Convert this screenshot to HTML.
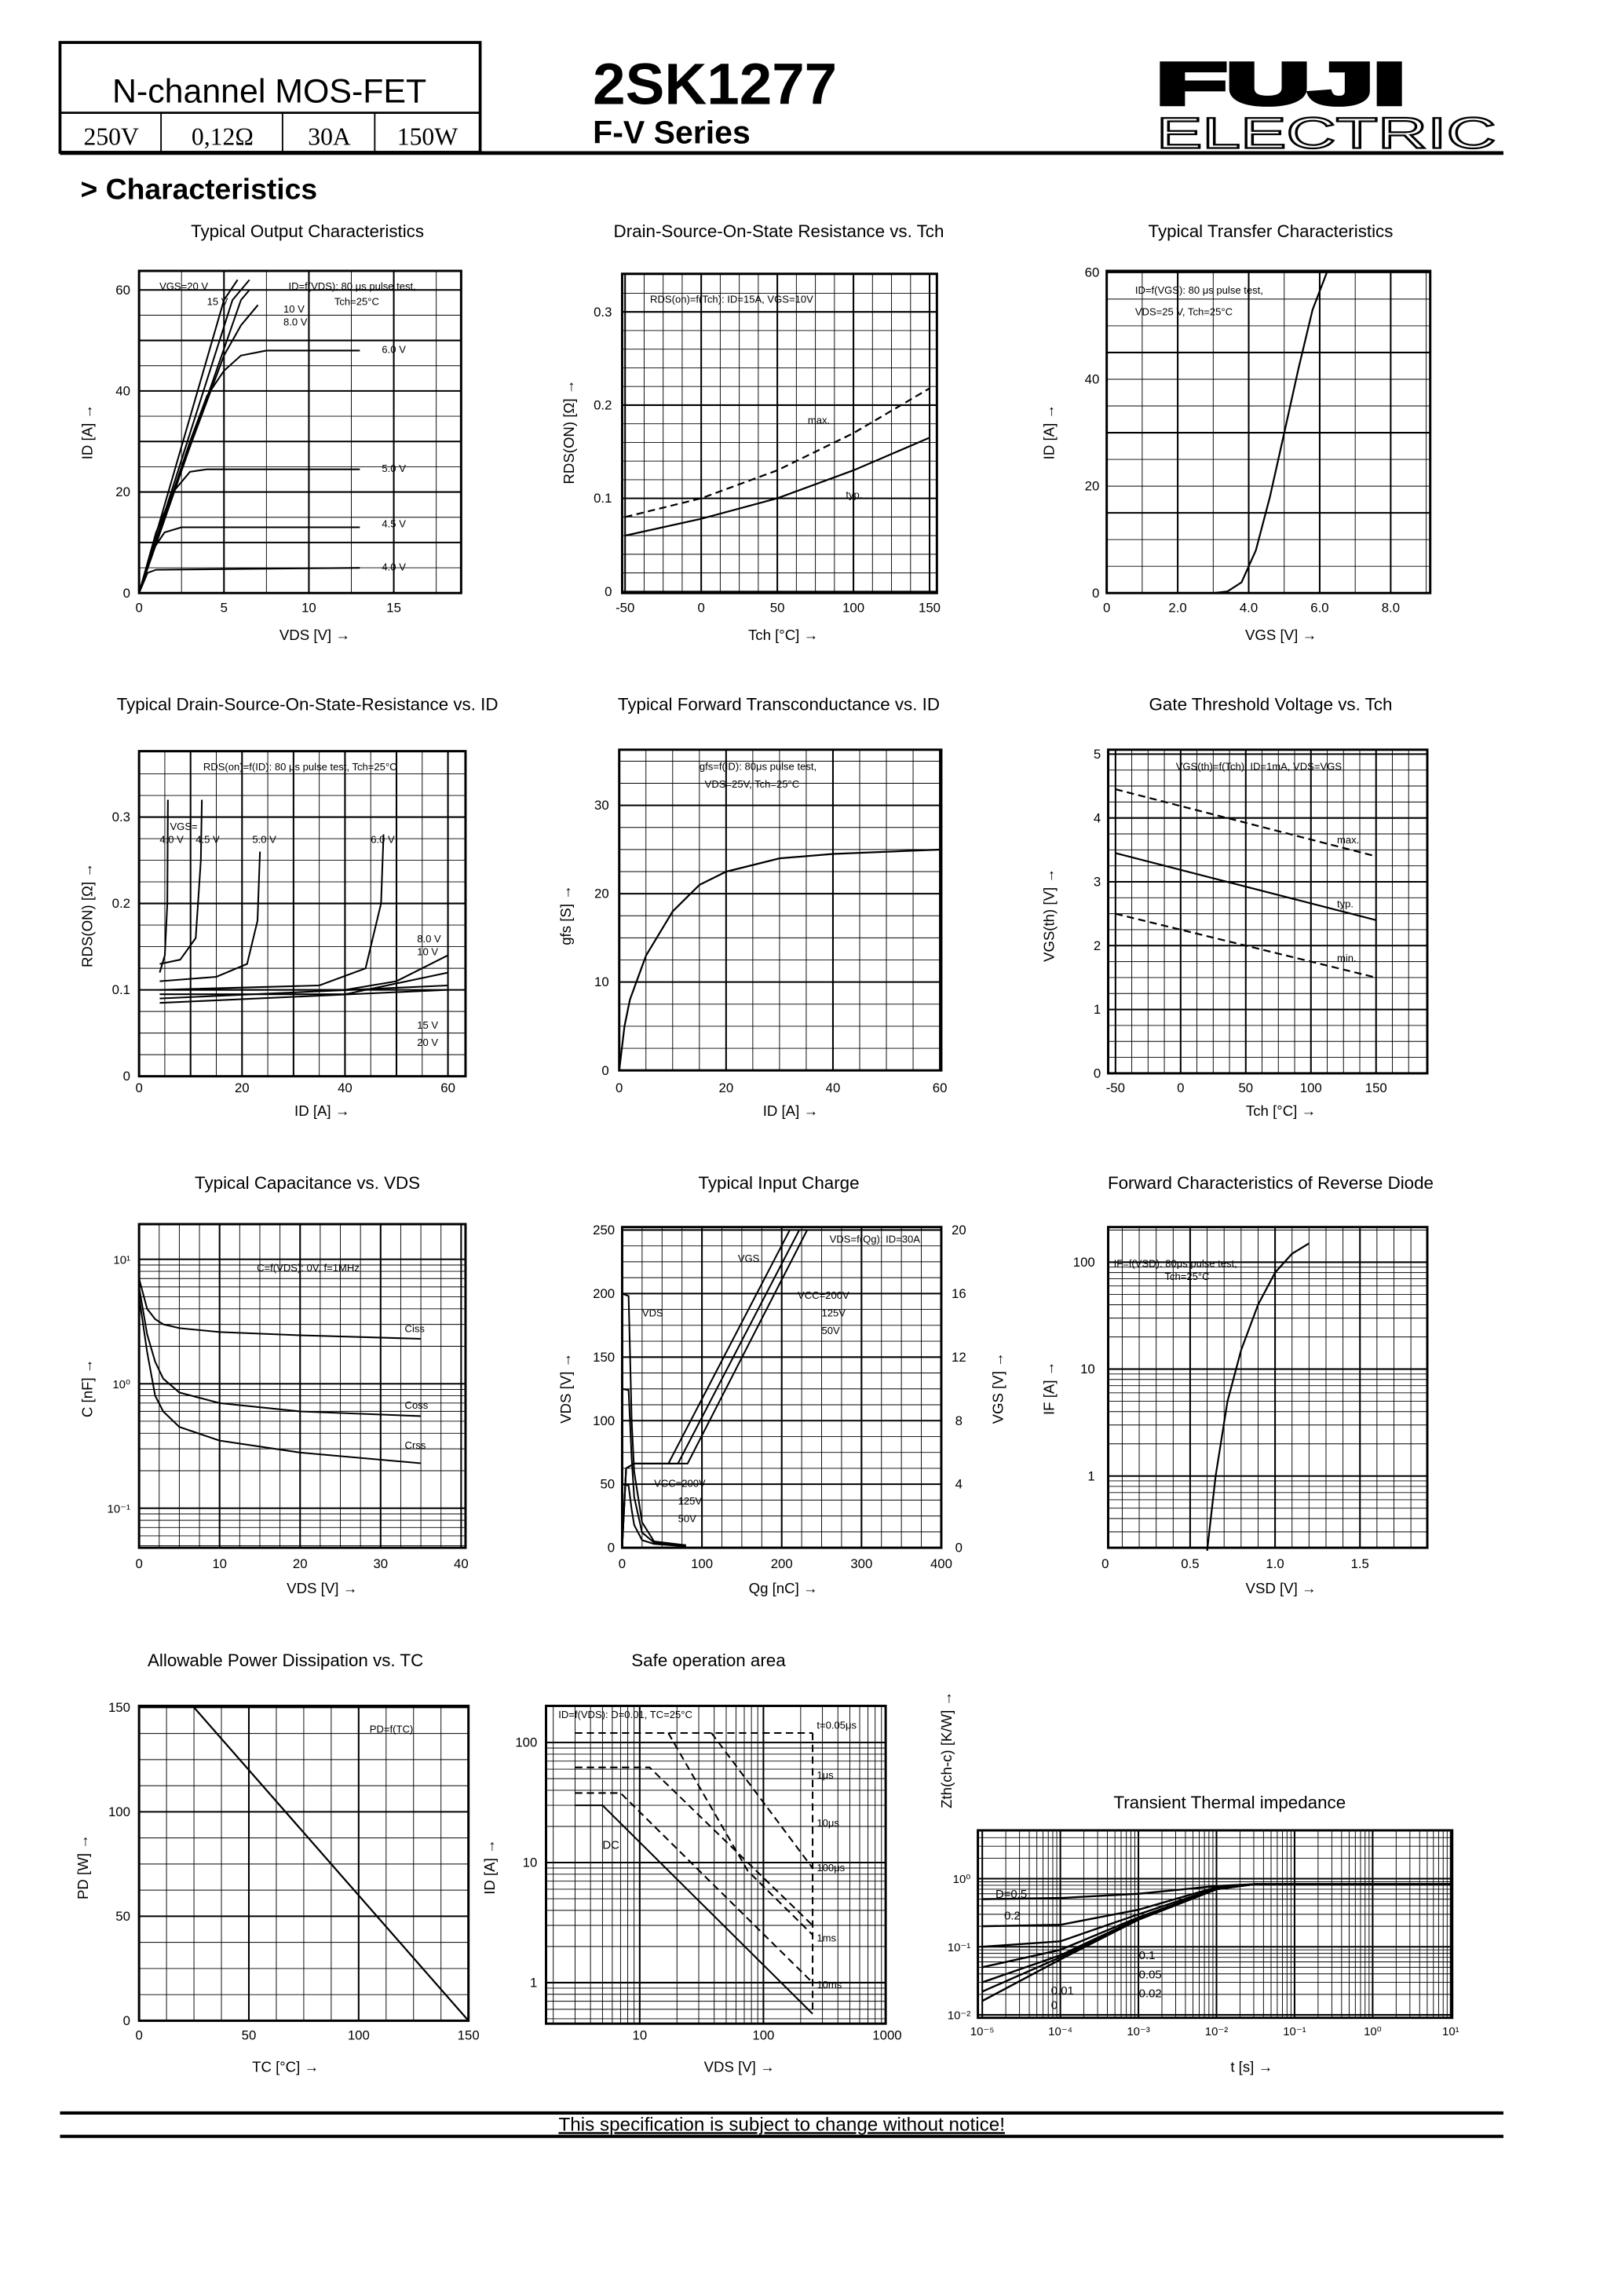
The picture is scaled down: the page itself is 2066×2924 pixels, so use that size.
<!DOCTYPE html>
<html><head><meta charset="utf-8"><title>2SK1277 Characteristics</title>
<style>
html,body{margin:0;padding:0;background:#fff}
svg{display:block}
text{font-family:"Liberation Sans",sans-serif;fill:#000}
</style></head>
<body>
<svg id="page" xmlns="http://www.w3.org/2000/svg" width="2066" height="2924" viewBox="0 0 1108 1568" preserveAspectRatio="none">
<g>
<rect x="41" y="29" width="287" height="75" fill="none" stroke="#000" stroke-width="2"/>
<line x1="41" y1="77" x2="328" y2="77" stroke="#000" stroke-width="1.5"/>
<line x1="110" y1="77" x2="110" y2="104" stroke="#000" stroke-width="1"/>
<line x1="193" y1="77" x2="193" y2="104" stroke="#000" stroke-width="1"/>
<line x1="256" y1="77" x2="256" y2="104" stroke="#000" stroke-width="1"/>
<text x="184" y="70" font-size="23" text-anchor="middle">N-channel MOS-FET</text>
<text x="76" y="99" font-size="17" text-anchor="middle" style="font-family:'Liberation Serif',serif">250V</text>
<text x="152" y="99" font-size="17" text-anchor="middle" style="font-family:'Liberation Serif',serif">0,12Ω</text>
<text x="225" y="99" font-size="17" text-anchor="middle" style="font-family:'Liberation Serif',serif">30A</text>
<text x="292" y="99" font-size="17" text-anchor="middle" style="font-family:'Liberation Serif',serif">150W</text>
<text x="405" y="71" font-size="40" font-weight="bold">2SK1277</text>
<text x="405" y="98" font-size="22" font-weight="bold">F-V Series</text>
<text x="790" y="71" font-size="40" font-weight="900" stroke="#000" stroke-width="3" textLength="170" lengthAdjust="spacingAndGlyphs">FUJI</text>
<text x="790" y="101" font-size="30" fill="#fff" stroke="#000" stroke-width="1.2" textLength="232" lengthAdjust="spacingAndGlyphs" style="fill:#fff">ELECTRIC</text>
<line x1="41" y1="104.5" x2="1027" y2="104.5" stroke="#000" stroke-width="2.5"/>
<text x="55" y="136" font-size="20" font-weight="bold">&gt; Characteristics</text>
</g>
<g>
<line x1="41" y1="1443" x2="1027" y2="1443" stroke="#000" stroke-width="2.2"/>
<line x1="41" y1="1459" x2="1027" y2="1459" stroke="#000" stroke-width="2.2"/>
<text x="534" y="1455" font-size="13" text-anchor="middle" text-decoration="underline">This specification is subject to change without notice!</text>
</g>
<g id="charts"></g>
</svg>
<script>
// ---- data ----
const c1Series = ["20 V","15 V","10 V","8.0 V","6.0 V","5.0 V","4.5 V","4.0 V"];
const c1Vds = [[0,5,5.8],[0,5.5,6.5],[0,6,6.5],[0,2,4,5,6,7],[0,1,2,3,4,5,6,7.5,13],[0,1,2,3,4,13],[0,0.7,1.5,2.5,13],[0,0.5,1,13]];
const c1Id = [[0,58,62],[0,58,62],[0,58,60],[0,20,38,47,53,57],[0,10,20,30,39,44,47,48,48],[0,12,20,24,24.5,24.5],[0,8,12,13,13],[0,4,4.6,5]];
const c2Tch = [-50,0,50,100,150];
const c2Typ = [0.06,0.078,0.1,0.13,0.165];
const c2Max = [0.08,0.1,0.13,0.17,0.218];
const c3Vgs = [3,3.4,3.8,4.2,4.6,5,5.4,5.8,6.2];
const c3Id = [0,0.3,2,8,18,30,42,53,60];
const c4Series = ["4.0 V","4.5 V","5.0 V","6.0 V","8.0 V","10 V","15 V","20 V"];
const c4Id = [[4,5,5.5,5.6],[4,8,11,12,12.2],[4,15,21,23,23.5],[4,35,44,47,47.5],[4,40,50,60],[4,40,60],[4,60],[4,60]];
const c4R = [[0.12,0.14,0.2,0.32],[0.13,0.135,0.16,0.25,0.32],[0.11,0.115,0.13,0.18,0.26],[0.1,0.105,0.125,0.2,0.28],[0.1,0.1,0.11,0.14],[0.095,0.095,0.12],[0.09,0.105],[0.085,0.1]];
const c5Id = [0,1,2,5,10,15,20,30,40,60];
const c5Gfs = [0,5,8,13,18,21,22.5,24,24.5,25];
const c6Tch = [-50,150];
const c6Max = [4.45,3.4];
const c6Typ = [3.45,2.4];
const c6Min = [2.5,1.5];
const c7Vds = [0,1,2,3,5,10,20,35];
const c7Ciss = [7,4,3.3,3,2.8,2.6,2.45,2.3];
const c7Coss = [6,2.5,1.5,1.1,0.85,0.7,0.6,0.55];
const c7Crss = [5,1.8,0.8,0.6,0.45,0.35,0.28,0.23];
const c8Q = [0,8,12,15,25,40,80];
const c8Vds200 = [200,198,100,60,20,5,2];
const c8Vds125 = [125,124,70,40,12,4,2];
const c8Vds50 = [50,49,30,18,6,3,1];
const c8Qg = [[0,5,15,82,232],[0,5,15,70,222],[0,5,15,58,210]];
const c8Vgs = [[0,5,5.3,5.3,20],[0,5,5.3,5.3,20],[0,5,5.3,5.3,20]];
const c9Vsd = [0.6,0.65,0.72,0.8,0.9,1.0,1.1,1.2];
const c9If = [0.2,1,5,15,40,80,120,150];
const c10Tc = [25,150];
const c10Pd = [150,0];
const c11Lines = [[[3,30],[5,30],[250,0.55]],[[3,38],[7,38],[250,1]],[[3,62],[12,62],[250,3]],[[3,120],[250,120]],[[17,120],[75,8.5],[250,2.5]],[[38,120],[250,9]],[[250,120],[250,0.55]]];
const c11Dash = [false,true,true,true,true,true,true];
const c12D = ["0.5","0.2","0.1","0.05","0.02","0.01","0"];
const c12T = [1e-5,1e-4,1e-3,1e-2,3e-2,0.05,10];
const c12Z = [[0.5,0.52,0.6,0.78,0.83,0.83,0.83],[0.2,0.21,0.35,0.75,0.83,0.83,0.83],[0.1,0.12,0.3,0.72,0.83,0.83,0.83],[0.05,0.09,0.27,0.7,0.83,0.83,0.83],[0.03,0.075,0.26,0.7,0.83,0.83,0.83],[0.022,0.07,0.25,0.7,0.83,0.83,0.83],[0.016,0.065,0.25,0.7,0.83,0.83,0.83]];

// ---- helpers ----
const NS = "http://www.w3.org/2000/svg";
const root = document.getElementById('charts');
function mk(tag, attrs, parent){const e=document.createElementNS(NS,tag);for(const k in attrs)e.setAttribute(k,attrs[k]);(parent||root).appendChild(e);return e;}
const lin=(d0,d1,r0,r1)=>v=>r0+(v-d0)*(r1-r0)/(d1-d0);
const lg=(d0,d1,r0,r1)=>v=>r0+(Math.log10(v)-Math.log10(d0))*(r1-r0)/(Math.log10(d1)-Math.log10(d0));
function txt(g,x,y,s,size,anchor,name){const t=mk('text',{x:x,y:y,'font-size':size||9,'text-anchor':anchor||'middle'},g);t.textContent=s;


return t;}
function path(g,pts,sx,sy,dash,w,name){let d='';pts.forEach((p,i)=>{d+=(i?'L':'M')+sx(p[0]).toFixed(1)+' '+sy(p[1]).toFixed(1);});
const p=mk('path',{d:d,fill:'none',stroke:'#000','stroke-width':w||1.1},g);if(dash)p.setAttribute('stroke-dasharray','5 3');


return p;}
function zip(a,b){return a.map((v,i)=>[v,b[i]]);}
function frame(name,b){const g=mk('g',{},root);


g.box=b;return g;}
function vgrid(g,xs,sx,thickEvery){xs.forEach((v,i)=>{const x=sx(v);if(x<g.box[0]-0.5||x>g.box[2]+0.5)return;const l=mk('line',{x1:x,y1:g.box[1],x2:x,y2:g.box[3],stroke:'#000','stroke-width':(thickEvery&&i%thickEvery==0)?1.1:0.5},g);

});}
function hgrid(g,ys,sy,thickEvery){ys.forEach((v,i)=>{const y=sy(v);if(y<g.box[1]-0.5||y>g.box[3]+0.5)return;const l=mk('line',{x1:g.box[0],y1:y,x2:g.box[2],y2:y,stroke:'#000','stroke-width':(thickEvery&&i%thickEvery==0)?1.1:0.5},g);

});}
function border(g){const b=g.box;const r=mk('rect',{x:b[0],y:b[1],width:b[2]-b[0],height:b[3]-b[1],fill:'none',stroke:'#000','stroke-width':1.6},g);

}
function range(a,b,s){const r=[];for(let v=a;v<=b+1e-9;v+=s)r.push(+v.toFixed(6));return r;}
function logLines(a,b){const r=[];for(let e=a;e<b;e++)for(let m=1;m<10;m++)r.push(m*Math.pow(10,e));r.push(Math.pow(10,b));return r;}
function xticks(g,vals,labels,sx,y){vals.forEach((v,i)=>txt(g,sx(v),y,labels[i],9,'middle','x-tick-label'));}
function yticks(g,vals,labels,sy,x){vals.forEach((v,i)=>txt(g,x,sy(v)+3,labels[i],9,'end','y-tick-label'));}
function title(g,x,y,s){txt(g,x,y,s,12,'middle','chart-title');}
function xlabel(g,x,y,s){txt(g,x,y,s,10,'middle','x-axis-title');}
function ylabel(g,x,y,s){const t=txt(g,x,y,s,10,'middle','y-axis-title');t.setAttribute('transform','rotate(-90 '+x+' '+y+')');}

// ---- chart 1: output ----
{const g=frame('output-characteristics-chart',[95,185,315,405]);const sx=lin(0,15,95,269),sy=lin(0,60,405,198);
vgrid(g,range(0,20,2.5),sx,2);hgrid(g,range(0,65,5),sy,2);border(g);
c1Vds.forEach((xs,i)=>{path(g,zip(xs,c1Id[i]),sx,sy,false,1.1,'curve-vgs-'+i);});
txt(g,sx(14.3),sy(47.5),'6.0 V',7,'start','curve-label');txt(g,sx(14.3),sy(24),'5.0 V',7,'start','curve-label');
txt(g,sx(14.3),sy(13),'4.5 V',7,'start','curve-label');txt(g,sx(14.3),sy(4.5),'4.0 V',7,'start','curve-label');
txt(g,sx(8.5),sy(53),'8.0 V',7,'start','curve-label');txt(g,sx(8.5),sy(55.5),'10 V',7,'start','curve-label');
txt(g,sx(1.2),sy(60),'VGS=20 V',7,'start','curve-label');txt(g,sx(4),sy(57),'15 V',7,'start','curve-label');
txt(g,sx(8.8),sy(60),'ID=f(VDS): 80 μs pulse test,',7,'start','condition-note');txt(g,sx(11.5),sy(57),'Tch=25°C',7,'start','condition-note');
xticks(g,[0,5,10,15],['0','5','10','15'],sx,418);yticks(g,[0,20,40,60],['0','20','40','60'],sy,89);
title(g,210,162,'Typical Output Characteristics');xlabel(g,215,437,'VDS [V] →');ylabel(g,63,295,'ID [A] →');}

// ---- chart 2: Rds vs Tch ----
{const g=frame('rds-vs-tch-chart',[425,187,640,405]);const sx=lin(-50,150,427,635),sy=lin(0,0.3,404,213);
vgrid(g,range(-50,150,12.5),sx,4);hgrid(g,range(0,0.34,0.02),sy,5);border(g);
path(g,c2Tch.map((t,i)=>[t,c2Typ[i]]),sx,sy,false,1.2,'typ-line');path(g,c2Tch.map((t,i)=>[t,c2Max[i]]),sx,sy,true,1.2,'max-line');
txt(g,sx(70),sy(0.18),'max.',7,'start','curve-label');txt(g,sx(95),sy(0.1),'typ.',7,'start','curve-label');
txt(g,sx(20),sy(0.31),'RDS(on)=f(Tch): ID=15A, VGS=10V',7,'middle','condition-note');
xticks(g,[-50,0,50,100,150],['-50','0','50','100','150'],sx,418);yticks(g,[0,0.1,0.2,0.3],['0','0.1','0.2','0.3'],sy,418);
title(g,532,162,'Drain-Source-On-State Resistance vs. Tch');xlabel(g,535,437,'Tch [°C] →');ylabel(g,392,295,'RDS(ON) [Ω] →');}

// ---- chart 3: transfer ----
{const g=frame('transfer-characteristics-chart',[756,185,977,405]);const sx=lin(0,8,756,950),sy=lin(0,60,405,186);
vgrid(g,range(0,9,1),sx,2);hgrid(g,range(0,60,5),sy,3);border(g);
path(g,zip(c3Vgs,c3Id),sx,sy,false,1.2,'transfer-curve');
txt(g,sx(0.8),sy(56),'ID=f(VGS): 80 μs pulse test,',7,'start','condition-note');txt(g,sx(0.8),sy(52),'VDS=25 V, Tch=25°C',7,'start','condition-note');
xticks(g,[0,2,4,6,8],['0','2.0','4.0','6.0','8.0'],sx,418);yticks(g,[0,20,40,60],['0','20','40','60'],sy,751);
title(g,868,162,'Typical Transfer Characteristics');xlabel(g,875,437,'VGS [V] →');ylabel(g,720,295,'ID [A] →');}

// ---- chart 4: Rds vs Id ----
{const g=frame('rds-vs-id-chart',[95,513,318,735]);const sx=lin(0,60,95,306),sy=lin(0,0.3,735,558);
vgrid(g,range(0,65,5),sx,2);hgrid(g,range(0,0.35,0.025),sy,4);border(g);
c4Id.forEach((xs,i)=>path(g,zip(xs,c4R[i]),sx,sy,false,1.1,'curve-vgs-'+i));
txt(g,sx(4),sy(0.27),'4.0 V',7,'start','curve-label');txt(g,sx(11),sy(0.27),'4.5 V',7,'start','curve-label');txt(g,sx(22),sy(0.27),'5.0 V',7,'start','curve-label');txt(g,sx(45),sy(0.27),'6.0 V',7,'start','curve-label');
txt(g,sx(54),sy(0.155),'8.0 V',7,'start','curve-label');txt(g,sx(54),sy(0.14),'10 V',7,'start','curve-label');txt(g,sx(54),sy(0.055),'15 V',7,'start','curve-label');txt(g,sx(54),sy(0.035),'20 V',7,'start','curve-label');
txt(g,sx(6),sy(0.285),'VGS=',7,'start','curve-label');
txt(g,205,526,'RDS(on)=f(ID): 80 μs pulse test, Tch=25°C',7,'middle','condition-note');
xticks(g,[0,20,40,60],['0','20','40','60'],sx,746);yticks(g,[0,0.1,0.2,0.3],['0','0.1','0.2','0.3'],sy,89);
title(g,210,485,'Typical Drain-Source-On-State-Resistance vs. ID');xlabel(g,220,762,'ID [A] →');ylabel(g,63,625,'RDS(ON) [Ω] →');}

// ---- chart 5: gfs ----
{const g=frame('transconductance-chart',[423,512,643,731]);const sx=lin(0,60,423,642),sy=lin(0,30,731,550);
vgrid(g,range(0,60,5),sx,4);hgrid(g,range(0,37,2.5),sy,4);border(g);
path(g,zip(c5Id,c5Gfs),sx,sy,false,1.2,'gfs-curve');
txt(g,sx(15),sy(34),'gfs=f(ID): 80μs pulse test,',7,'start','condition-note');txt(g,sx(16),sy(32),'VDS=25V, Tch=25°C',7,'start','condition-note');
xticks(g,[0,20,40,60],['0','20','40','60'],sx,746);yticks(g,[0,10,20,30],['0','10','20','30'],sy,416);
title(g,532,485,'Typical Forward Transconductance vs. ID');xlabel(g,540,762,'ID [A] →');ylabel(g,390,625,'gfs [S] →');}

// ---- chart 6: Vth ----
{const g=frame('gate-threshold-chart',[757,512,975,733]);const sx=lin(-50,150,762,940),sy=lin(0,5,733,515);
vgrid(g,range(-50,175,12.5),sx,4);hgrid(g,range(0,5,0.25),sy,4);border(g);
path(g,zip(c6Tch,c6Max),sx,sy,true,1.2,'max-line');path(g,zip(c6Tch,c6Typ),sx,sy,false,1.2,'typ-line');path(g,zip(c6Tch,c6Min),sx,sy,true,1.2,'min-line');
txt(g,sx(120),sy(3.6),'max.',7,'start','curve-label');txt(g,sx(120),sy(2.6),'typ.',7,'start','curve-label');txt(g,sx(120),sy(1.75),'min.',7,'start','curve-label');
txt(g,sx(60),sy(4.75),'VGS(th)=f(Tch): ID=1mA, VDS=VGS',7,'middle','condition-note');
xticks(g,[-50,0,50,100,150],['-50','0','50','100','150'],sx,746);yticks(g,[0,1,2,3,4,5],['0','1','2','3','4','5'],sy,752);
title(g,868,485,'Gate Threshold Voltage vs. Tch');xlabel(g,875,762,'Tch [°C] →');ylabel(g,720,625,'VGS(th) [V] →');}

// ---- chart 7: capacitance ----
{const g=frame('capacitance-chart',[95,836,318,1057]);const sx=lin(0,40,95,315),sy=lg(1,10,945,860);
vgrid(g,range(0,40,2.5),sx,4);hgrid(g,logLines(-2,2),sy,9);border(g);
path(g,zip(c7Vds,c7Ciss),sx,sy,false,1.1,'ciss-line');path(g,zip(c7Vds,c7Coss),sx,sy,false,1.1,'coss-line');path(g,zip(c7Vds,c7Crss),sx,sy,false,1.1,'crss-line');
txt(g,sx(33),sy(2.6),'Ciss',7,'start','curve-label');txt(g,sx(33),sy(0.63),'Coss',7,'start','curve-label');txt(g,sx(33),sy(0.3),'Crss',7,'start','curve-label');
txt(g,sx(21),sy(8),'C=f(VDS): 0V, f=1MHz',7,'middle','condition-note');
xticks(g,[0,10,20,30,40],['0','10','20','30','40'],sx,1071);
txt(g,89,sy(10)+3,'10¹',8,'end','y-tick-label');txt(g,89,sy(1)+3,'10⁰',8,'end','y-tick-label');txt(g,89,sy(0.1)+3,'10⁻¹',8,'end','y-tick-label');
title(g,210,812,'Typical Capacitance vs. VDS');xlabel(g,220,1088,'VDS [V] →');ylabel(g,63,948,'C [nF] →');}

// ---- chart 8: gate charge ----
{const g=frame('gate-charge-chart',[425,838,643,1057]);const sx=lin(0,400,425,643),sy=lin(0,250,1057,840),syg=v=>sy(v*12.5);
vgrid(g,range(0,400,25),sx,4);hgrid(g,range(0,250,12.5),sy,4);border(g);
path(g,zip(c8Q,c8Vds200),sx,sy,false,1.1,'vds-200v');path(g,zip(c8Q,c8Vds125),sx,sy,false,1.1,'vds-125v');path(g,zip(c8Q,c8Vds50),sx,sy,false,1.1,'vds-50v');
c8Qg.forEach((q,i)=>path(g,zip(q,c8Vgs[i]),sx,syg,false,1.1,'vgs-curve-'+i));
txt(g,sx(260),sy(240),'VDS=f(Qg): ID=30A',7,'start','condition-note');txt(g,sx(220),sy(196),'VCC=200V',7,'start','curve-label');txt(g,sx(250),sy(182),'125V',7,'start','curve-label');txt(g,sx(250),sy(168),'50V',7,'start','curve-label');
txt(g,sx(40),sy(48),'VCC=200V',7,'start','curve-label');txt(g,sx(70),sy(34),'125V',7,'start','curve-label');txt(g,sx(70),sy(20),'50V',7,'start','curve-label');
txt(g,sx(25),sy(182),'VDS',7,'start','curve-label');txt(g,sx(145),sy(225),'VGS',7,'start','curve-label');
xticks(g,[0,100,200,300,400],['0','100','200','300','400'],sx,1071);yticks(g,[0,50,100,150,200,250],['0','50','100','150','200','250'],sy,420);
[0,4,8,12,16,20].forEach(v=>txt(g,655,syg(v)+3,String(v),9,'middle','y2-tick-label'));
title(g,532,812,'Typical Input Charge');xlabel(g,535,1088,'Qg [nC] →');ylabel(g,390,948,'VDS [V] →');ylabel(g,685,948,'VGS [V] →');}

// ---- chart 9: reverse diode ----
{const g=frame('reverse-diode-chart',[757,838,975,1057]);const sx=lin(0,1.5,755,929),sy=lg(1,100,1008,862);
vgrid(g,range(0,1.9,0.1),sx,5);hgrid(g,logLines(-2,3),sy,9);border(g);
path(g,zip(c9Vsd,c9If),sx,sy,false,1.2,'diode-curve');
txt(g,sx(0.05),sy(90),'IF=f(VSD): 80μs pulse test,',7,'start','condition-note');txt(g,sx(0.35),sy(68),'Tch=25°C',7,'start','condition-note');
xticks(g,[0,0.5,1,1.5],['0','0.5','1.0','1.5'],sx,1071);yticks(g,[1,10,100],['1','10','100'],sy,748);
title(g,868,812,'Forward Characteristics of Reverse Diode');xlabel(g,875,1088,'VSD [V] →');ylabel(g,720,948,'IF [A] →');}

// ---- chart 10: power ----
{const g=frame('power-dissipation-chart',[95,1165,320,1380]);const sx=lin(0,150,95,320),sy=lin(0,150,1380,1166);
vgrid(g,range(0,150,12.5),sx,4);hgrid(g,range(0,150,12.5),sy,4);border(g);
path(g,zip(c10Tc,c10Pd),sx,sy,false,1.2,'pd-line');
txt(g,sx(105),sy(138),'PD=f(TC)',7,'start','condition-note');
xticks(g,[0,50,100,150],['0','50','100','150'],sx,1393);yticks(g,[0,50,100,150],['0','50','100','150'],sy,89);
title(g,195,1138,'Allowable Power Dissipation vs. TC');xlabel(g,195,1415,'TC [°C] →');ylabel(g,60,1275,'PD [W] →');}

// ---- chart 11: SOA ----
{const g=frame('safe-operating-area-chart',[373,1165,605,1382]);const sx=lg(10,1000,437,606),sy=lg(1,100,1354,1190);
vgrid(g,logLines(0,3),sx,9);hgrid(g,logLines(-1,3),sy,9);border(g);
c11Lines.forEach((l,i)=>path(g,l,sx,sy,c11Dash[i],1.1,'soa-limit-'+i));
txt(g,sx(5),sy(13),'DC',8,'start','curve-label');
['t=0.05μs','1μs','10μs','100μs','1ms','10ms'].forEach((s,i)=>txt(g,sx(270),sy([130,50,20,8.5,2.2,0.9][i]),s,7,'start','curve-label'));
txt(g,sx(2.2),sy(160),'ID=f(VDS): D=0.01, TC=25°C',7,'start','condition-note');
xticks(g,[10,100,1000],['10','100','1000'],sx,1393);yticks(g,[1,10,100],['1','10','100'],sy,367);
title(g,484,1138,'Safe operation area');xlabel(g,505,1415,'VDS [V] →');ylabel(g,338,1275,'ID [A] →');}

// ---- chart 12: transient ----
{const g=frame('transient-thermal-chart',[668,1250,992,1378]);const sx=lg(1e-5,10,671,991),sy=lg(0.01,1,1376,1283);
vgrid(g,logLines(-5,1),sx,9);hgrid(g,logLines(-2,1),sy,9);border(g);
c12Z.forEach((z,i)=>path(g,zip(c12T,z),sx,sy,false,1.3,'zth-d-'+i));
txt(g,680,1296,'D=0.5',8,'start','curve-label');txt(g,686,1311,'0.2',8,'start','curve-label');
txt(g,778,1338,'0.1',8,'start','curve-label');txt(g,778,1351,'0.05',8,'start','curve-label');txt(g,778,1364,'0.02',8,'start','curve-label');
txt(g,718,1362,'0.01',8,'start','curve-label');txt(g,718,1372,'0',8,'start','curve-label');
const ex=[-5,-4,-3,-2,-1,0,1];ex.forEach(e=>{txt(g,sx(Math.pow(10,e)),1390,'10'+(e<0?'⁻':'')+['⁰','¹','²','³','⁴','⁵'][Math.abs(e)],8,'middle','x-tick-label');});
txt(g,663,sy(1)+3,'10⁰',8,'end','y-tick-label');txt(g,663,sy(0.1)+3,'10⁻¹',8,'end','y-tick-label');txt(g,663,sy(0.01)+3,'10⁻²',8,'end','y-tick-label');
title(g,840,1235,'Transient Thermal impedance');xlabel(g,855,1415,'t [s] →');ylabel(g,650,1195,'Zth(ch-c) [K/W] →');}
</script>
</body></html>
